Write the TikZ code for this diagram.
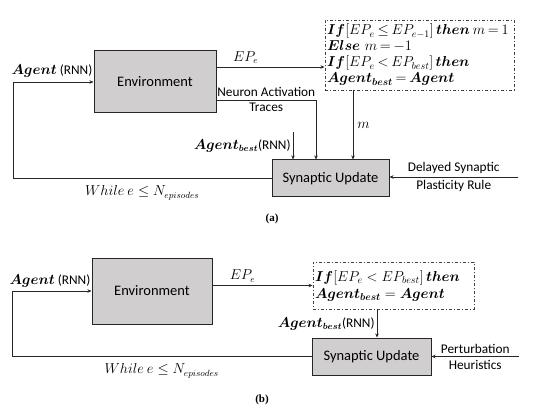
\documentclass[tikz,border=0pt]{standalone}
\usepackage{amsfonts, amsmath, amssymb}
\usepackage{fontspec}
\setmainfont{Carlito}
\newfontfamily\capfont{Liberation Serif}
\usetikzlibrary{arrows.meta}
\newcommand{\tightmath}{\thickmuskip=3.5mu plus 2mu\relax\medmuskip=3mu\relax}

\tikzset{
    blockbox/.style={draw=black!85, line width=1pt, fill={rgb,255:red,208;green,206;blue,206}, font=\fontsize{14.5}{16}\selectfont},
    rulebox/.style={draw=black!75, line width=0.9pt, dash pattern=on 3pt off 2pt on 1pt off 2pt, align=left, inner xsep=2pt, inner ysep=3pt,
        font=\fontsize{13.8}{16}\selectfont\tightmath},
    link/.style={draw=black!85, line width=0.8pt, -{Stealth[length=4pt,width=3.5pt]}},
    txt/.style={font=\fontsize{13.3}{15}\selectfont, inner sep=1pt}
}

\begin{document}
\begin{tikzpicture}[x=1pt, y=-1pt]
        \useasboundingbox (0,0) rectangle (545,419);

        % (a)
        \node[blockbox, minimum width=122pt, minimum height=62pt] (envA) at (155,82) {Environment};
        \node[blockbox, minimum width=117pt, minimum height=37pt] (synA) at (330.5,178.5) {Synaptic Update};
        \node[rulebox, minimum width=189pt, minimum height=70pt, text width=185pt] (ruleA) at (419.5,55)
        {\mbox{$\boldsymbol{If}[EP_e \leq EP_{e-1}]\,\boldsymbol{then}\;m=1$}\\
         \mbox{$\boldsymbol{Else}\ m=-1$}\\
         \mbox{$\boldsymbol{If}[EP_e < EP_{best}]\,\boldsymbol{then}$}\\
         \mbox{$\boldsymbol{Agent_{best}} = \boldsymbol{Agent}$}};

        \coordinate (loopA) at (13,178.5);
        \draw[link] (synA.west) -- node[txt, below=6pt] {$While\ e \leq N_{episodes}$} (loopA) |- (envA.west);
        \node[txt, anchor=south east] (agentA) at ([yshift=3pt]envA.west) {$\boldsymbol{Agent}$ (RNN)};

        \draw[link] ([yshift=15pt]envA.east) coordinate (epA) -- node[txt, above=2pt, pos=0.27] {$EP_e$} (epA -| ruleA.west);
        \draw[link] ([yshift=-18pt]envA.east) -| node[txt, above=2pt, pos=0.25] {Neuron Activation}
            node[txt, below=2pt, pos=0.25] {Traces} ([xshift=-14.5pt]synA.north);
        \draw[link] ([xshift=-66.5pt]ruleA.south) coordinate (mA) -- node[txt, right=3pt] {$m$} (mA |- synA.north);

        \coordinate (bestA) at (293,132);
        \draw[link] (bestA) -- node[txt, left=1pt] {$\boldsymbol{Agent_{best}}$(RNN)} (bestA |- synA.north);

        \coordinate (plastA) at (518,177);
        \draw[link] (plastA) -- node[txt, above=2pt] {Delayed Synaptic}
            node[txt, below=2pt] {Plasticity Rule} (plastA -| synA.east);

        \node[font=\capfont\bfseries\fontsize{11}{13}\selectfont] (capA) at (272,219) {(a)};

        % (b)
        \node[blockbox, minimum width=120pt, minimum height=66pt] (envB) at (152,291) {Environment};
        \node[blockbox, minimum width=119pt, minimum height=37pt] (synB) at (371.5,356.5) {Synaptic Update};
        \node[rulebox, minimum width=161pt, minimum height=47pt, text width=157pt, font=\fontsize{14.5}{17}\selectfont] (ruleB) at (393.5,285.5)
        {\mbox{$\boldsymbol{If}[EP_e < EP_{best}]\,\boldsymbol{then}$}\\
         \mbox{$\boldsymbol{Agent_{best}} = \boldsymbol{Agent}$}};

        \coordinate (loopB) at (12,356.5);
        \draw[link] (synB.west) -- node[txt, below=6pt] {$While\ e \leq N_{episodes}$} (loopB) |- (envB.west);
        \node[txt, anchor=south east] (agentB) at ([yshift=3pt]envB.west) {$\boldsymbol{Agent}$ (RNN)};

        \draw[link] (ruleB.west -| envB.east) -- node[txt, above=2pt, pos=0.3] {$EP_e$} (ruleB.west);
        \draw[link] ([xshift=-16.5pt]ruleB.south) coordinate (bestB) -- node[txt, left=1pt] {$\boldsymbol{Agent_{best}}$(RNN)} (bestB |- synB.north);

        \coordinate (pertB) at (519,356.5);
        \draw[link] (pertB) -- node[txt, above=2pt] {Perturbation}
            node[txt, below=2pt] {Heuristics} (synB.east);

        \node[font=\capfont\bfseries\fontsize{11}{13}\selectfont] (capB) at (262,400) {(b)};
    \end{tikzpicture}
\end{document}
